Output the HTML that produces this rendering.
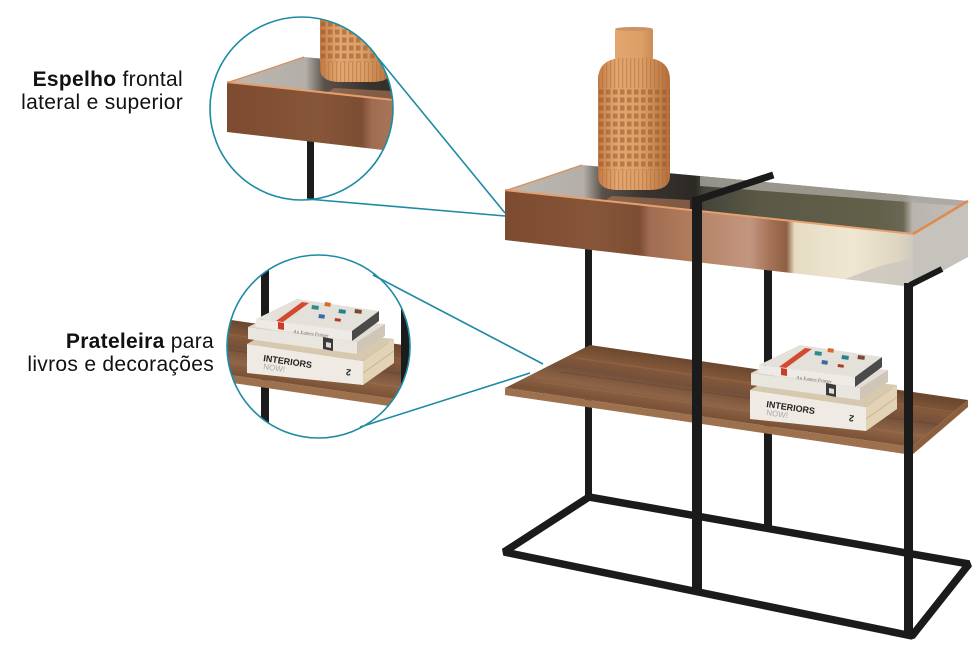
<!DOCTYPE html>
<html><head><meta charset="utf-8"><style>html,body{margin:0;padding:0;background:#fff}svg{display:block}</style></head>
<body>
<svg width="980" height="660" viewBox="0 0 980 660" xmlns="http://www.w3.org/2000/svg">
<defs>
  <linearGradient id="wood" gradientUnits="userSpaceOnUse" x1="700" y1="362" x2="688" y2="440">
    <stop offset="0" stop-color="#6c482f"/>
    <stop offset="0.18" stop-color="#85593b"/>
    <stop offset="0.32" stop-color="#74503a"/>
    <stop offset="0.5" stop-color="#8e6446"/>
    <stop offset="0.66" stop-color="#7a5236"/>
    <stop offset="0.82" stop-color="#946a4a"/>
    <stop offset="1" stop-color="#80573a"/>
  </linearGradient>
  <linearGradient id="front" gradientUnits="userSpaceOnUse" x1="505" y1="0" x2="913" y2="0">
    <stop offset="0" stop-color="#7c4b30"/>
    <stop offset="0.22" stop-color="#875639"/>
    <stop offset="0.33" stop-color="#7d4d33"/>
    <stop offset="0.355" stop-color="#a06d52"/>
    <stop offset="0.45" stop-color="#b07b5d"/>
    <stop offset="0.5" stop-color="#b9886c"/>
    <stop offset="0.6" stop-color="#c39680"/>
    <stop offset="0.65" stop-color="#a47256"/>
    <stop offset="0.69" stop-color="#8f5f45"/>
    <stop offset="0.71" stop-color="#e6dcc4"/>
    <stop offset="0.85" stop-color="#f0e7d2"/>
    <stop offset="0.97" stop-color="#ddd4bf"/>
    <stop offset="1" stop-color="#cdc8bf"/>
  </linearGradient>
  <linearGradient id="topg" gradientUnits="userSpaceOnUse" x1="505" y1="0" x2="968" y2="0">
    <stop offset="0" stop-color="#bdb8b2"/>
    <stop offset="0.17" stop-color="#b3aea8"/>
    <stop offset="0.21" stop-color="#5a514a"/>
    <stop offset="0.3" stop-color="#3a3430"/>
    <stop offset="0.41" stop-color="#2c2925"/>
    <stop offset="0.43" stop-color="#45443a"/>
    <stop offset="0.55" stop-color="#5a5946"/>
    <stop offset="0.8" stop-color="#626049"/>
    <stop offset="0.86" stop-color="#6a6752"/>
    <stop offset="0.88" stop-color="#b9b4ad"/>
    <stop offset="1" stop-color="#c4c0ba"/>
  </linearGradient>
  <linearGradient id="vase" gradientUnits="userSpaceOnUse" x1="598" y1="0" x2="670" y2="0">
    <stop offset="0" stop-color="#c47b44"/>
    <stop offset="0.25" stop-color="#e2a66f"/>
    <stop offset="0.6" stop-color="#dc9f66"/>
    <stop offset="1" stop-color="#b46f3c"/>
  </linearGradient>
  <pattern id="sq" x="598" y="88" width="7" height="8" patternUnits="userSpaceOnUse">
    <rect x="1" y="1.5" width="4.5" height="5" fill="#97552a" opacity="0.55"/>
  </pattern>
  <pattern id="rib" x="598" y="0" width="4" height="10" patternUnits="userSpaceOnUse">
    <rect x="0" y="0" width="1.2" height="10" fill="#a8683a" opacity="0.45"/>
  </pattern>
  <clipPath id="vclip"><path d="M598,80 Q598,60 620,58 L648,58 Q670,60 670,80 L670,176 Q670,190 650,190 L618,190 Q598,190 598,176 Z"/></clipPath>
  <clipPath id="c1"><circle cx="301.5" cy="108.5" r="91.5"/></clipPath>
  <clipPath id="c2"><circle cx="318.5" cy="346.5" r="91.5"/></clipPath>

  <g id="scene">
    <!-- back legs -->
    <rect x="585" y="240" width="7" height="258" fill="#1b1b1b"/>
    <rect x="764" y="262" width="8" height="266" fill="#1b1b1b"/>
    <!-- shelf -->
    <polygon points="505,388 590,345 968,400 912,447" fill="url(#wood)"/>
    <g stroke-width="1" fill="none" opacity="0.35">
      <line x1="560" y1="372" x2="940" y2="425" stroke="#5a3a24"/>
      <line x1="540" y1="382" x2="930" y2="437" stroke="#a67a56"/>
      <line x1="575" y1="358" x2="955" y2="412" stroke="#a67a56"/>
    </g>
    <polygon points="505,388 912,447 912,455 505,395" fill="#9d704e"/>
    <polygon points="912,447 968,400 968,407 912,455" fill="#8a603f"/>
    <!-- books -->
    <polygon points="750,390 780,373 897,385 866,407" fill="#d6c9ae"/>
    <polygon points="866,407 897,385 897,409 866,431" fill="#e2d3b6"/>
    <line x1="866" y1="419" x2="897" y2="397" stroke="#c9b48e" stroke-width="1"/>
    <polygon points="750,390 866,407 866,431 750,419" fill="#efebe4"/>
    <text x="766" y="407" transform="rotate(8.3 766 407)" font-family="Liberation Sans, sans-serif" font-weight="700" font-size="9" fill="#222">INTERIORS</text>
    <text x="766" y="415" transform="rotate(8.3 766 415)" font-family="Liberation Sans, sans-serif" font-size="8" fill="#aaa">NOW!</text>
    <text x="846" y="421" transform="rotate(188 850 418)" font-family="Liberation Sans, sans-serif" font-weight="700" font-size="9" fill="#222">2</text>

    <polygon points="751,373 778,360 888,370 860,388" fill="#e2ddd5"/>
    <polygon points="860,388 888,370 888,382 860,400" fill="#cfc6b8"/>
    <polygon points="751,373 860,388 860,400 751,385" fill="#e9e5df"/>
    <polygon points="826,383 836,385 836,397 826,395" fill="#3a3a3a"/>
    <polygon points="829,388 834,389 834,394 829,393" fill="#ddd"/>

    <polygon points="759,365 800,345 882,357 855,377" fill="#e4e0da"/>
    <polygon points="855,377 882,357 882,367 855,387" fill="#4a4a4a"/>
    <polygon points="759,365 855,377 855,387 759,373" fill="#eeebe6"/>
    <polygon points="779,367 786,368 812,349 805,348" fill="#d44a30"/>
    <polygon points="781,368 787,369 787,376 781,375" fill="#c83c28"/>
    <rect x="815" y="351" width="7" height="4" fill="#2f8a8a" transform="rotate(8 815 351)"/>
    <rect x="828" y="348" width="6" height="4" fill="#d86a2a" transform="rotate(8 828 348)"/>
    <rect x="842" y="355" width="7" height="4" fill="#2a7f90" transform="rotate(8 842 355)"/>
    <rect x="858" y="355" width="7" height="4" fill="#7a4a30" transform="rotate(8 858 355)"/>
    <rect x="822" y="360" width="6" height="4" fill="#3a6aa0" transform="rotate(8 822 360)"/>
    <rect x="838" y="364" width="6" height="3" fill="#b03a2a" transform="rotate(8 838 364)"/>
    <text x="796" y="379" transform="rotate(7 796 379)" font-family="Liberation Serif, serif" font-size="5" fill="#666">An Eames Primer</text>

    <!-- top box -->
    <polygon points="505,190 582,165 968,201 913,234" fill="url(#topg)"/>
    <polygon points="700,176 968,201 960,206 700,186" fill="#a9a59f" opacity="0.8"/>
    <polygon points="600,204 612,196 690,200 690,210" fill="#b87a55" opacity="0.6"/>
    <polygon points="505,190 913,234 913,287 505,240" fill="url(#front)"/>
    <polygon points="845,279 913,287 913,258 880,266" fill="#cdc8c0" opacity="0.9"/>
    <polygon points="913,234 968,201 968,257 913,287" fill="#c6c2bc"/>
    <line x1="505" y1="190" x2="913" y2="234" stroke="#e6a06e" stroke-width="2"/>
    <line x1="913" y1="234" x2="968" y2="201" stroke="#e08a52" stroke-width="2.5"/>
    <line x1="505" y1="191" x2="582" y2="165" stroke="#d6905f" stroke-width="1.2"/>

    <!-- vase -->
    <rect x="615" y="28" width="38" height="32" rx="3" fill="url(#vase)"/>
    <ellipse cx="634" cy="29" rx="19" ry="2" fill="#c99363"/>
    <path d="M598,80 Q598,60 620,58 L648,58 Q670,60 670,80 L670,176 Q670,190 650,190 L618,190 Q598,190 598,176 Z" fill="url(#vase)"/>
    <g clip-path="url(#vclip)">
      <rect x="598" y="58" width="72" height="30" fill="url(#rib)"/>
      <rect x="598" y="88" width="72" height="82" fill="url(#sq)"/>
      <rect x="598" y="170" width="72" height="20" fill="url(#rib)"/>
    </g>

    <!-- front frame -->
    <rect x="692" y="197" width="10" height="395" fill="#1b1b1b"/>
    <line x1="697" y1="200" x2="770" y2="176" stroke="#1b1b1b" stroke-width="7" stroke-linecap="square"/>
    <rect x="904" y="283" width="9" height="355" fill="#1b1b1b"/>
    <line x1="910" y1="285" x2="942" y2="269" stroke="#1b1b1b" stroke-width="6"/>
    <!-- base frame -->
    <polygon points="589,497 969,564 912,636 504,552" fill="none" stroke="#1b1b1b" stroke-width="7.5" stroke-linejoin="bevel"/>
  </g>
</defs>

<rect width="980" height="660" fill="#fff"/>
<use href="#scene"/>

<!-- circle 1 -->
<circle cx="301.5" cy="108.5" r="91.5" fill="#fff"/>
<g clip-path="url(#c1)"><use href="#scene" transform="translate(-278,-108)"/></g>
<circle cx="301.5" cy="108.5" r="91.5" fill="none" stroke="#1d8ba3" stroke-width="1.6"/>

<!-- circle 2 -->
<circle cx="318.5" cy="346.5" r="91.5" fill="#fff"/>
<g clip-path="url(#c2)"><use href="#scene" transform="translate(-503,-46)"/></g>
<circle cx="318.5" cy="346.5" r="91.5" fill="none" stroke="#1d8ba3" stroke-width="1.6"/>

<!-- callout lines -->
<g stroke="#1d8ba3" stroke-width="1.6" fill="none">
  <line x1="378" y1="58" x2="505" y2="213"/>
  <line x1="307" y1="199" x2="505" y2="216"/>
  <line x1="373" y1="275" x2="543" y2="364"/>
  <line x1="360" y1="427" x2="530" y2="373"/>
</g>

<!-- labels -->
<g font-family="Liberation Sans, sans-serif" font-size="21" fill="#111" text-anchor="end" letter-spacing="0.3">
  <text x="183" y="86"><tspan font-weight="700">Espelho</tspan> frontal</text>
  <text x="183" y="109">lateral e superior</text>
  <text x="214" y="348"><tspan font-weight="700">Prateleira</tspan> para</text>
  <text x="214" y="371">livros e decorações</text>
</g>
</svg>
</body></html>
